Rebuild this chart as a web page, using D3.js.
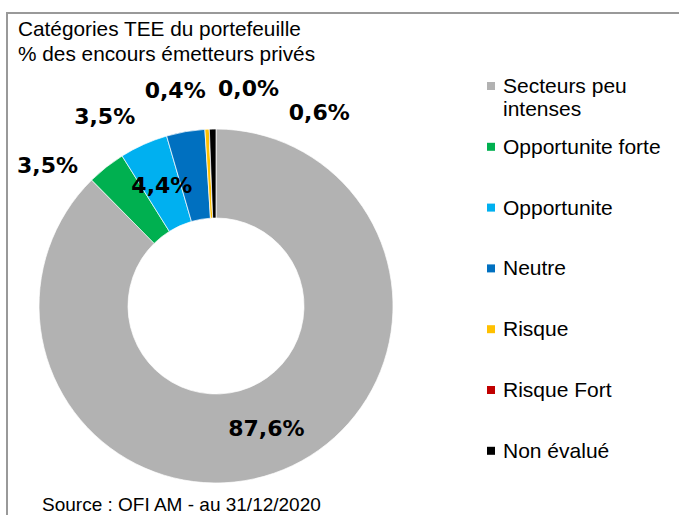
<!DOCTYPE html>
<html>
<head>
<meta charset="utf-8">
<script src="https://cdn.jsdelivr.net/npm/d3@7"></script>
<style>
  body { margin: 0; background: #fff; }
  svg { display: block; }
  text { font-family: "Liberation Sans", Arial, sans-serif; }
  text.lbl { font-family: "DejaVu Sans", sans-serif; font-weight: bold; }
</style>
</head>
<body>
<svg width="679" height="515"></svg>
<script>
// Categories TEE - donut
var categories = ["Secteurs peu intenses", "Opportunite forte", "Opportunite", "Neutre", "Risque", "Risque Fort", "Non évalué"];
var values = [87.6, 3.5, 4.4, 3.5, 0.4, 0.0, 0.6];
var colors = ["#b2b2b2", "#00b050", "#00b0f0", "#0070c0", "#ffc000", "#c00000", "#000000"];
var titleLines = ["Catégories TEE du portefeuille", "% des encours émetteurs  privés"];
var sourceText = "Source : OFI AM - au 31/12/2020";

var svg = d3.select("svg");

var data = categories.map(function(c, i) { return {name: c, value: values[i], color: colors[i]}; });

// cadre
svg.append("line").attr("x1", 7).attr("x2", 679).attr("y1", 13).attr("y2", 13)
  .attr("stroke", "#999").attr("stroke-width", 2);
svg.append("line").attr("x1", 7).attr("x2", 7).attr("y1", 12).attr("y2", 515)
  .attr("stroke", "#999").attr("stroke-width", 2);

// titre
svg.append("g").selectAll("text")
  .data(titleLines)
  .enter().append("text")
  .attr("x", 18)
  .attr("y", function(d, i) { return 36 + i * 25; })
  .attr("font-size", 20.8)
  .attr("fill", "#000")
  .text(function(d) { return d; });

// donut
var cx = 216, cy = 306, R = 177, r0 = 88;
var pie = d3.pie().sort(null).value(function(d) { return d.value; });
var arc = d3.arc().innerRadius(r0).outerRadius(R);
var arcs = pie(data);

var g = svg.append("g").attr("transform", "translate(" + cx + "," + cy + ")");

g.selectAll("path")
  .data(arcs)
  .enter().append("path")
  .attr("d", arc)
  .attr("fill", function(d) { return d.data.color; })
  .attr("stroke", "#fff")
  .attr("stroke-width", 0.7);

// etiquettes : dans l'anneau pour les grandes parts, sinon a l'exterieur
var outside = {"Opportunite forte": -50, "Neutre": -30.4, "Risque": -10.7, "Risque Fort": 8.5, "Non évalué": 28};
var fmt = function(v) { return v.toFixed(1).replace(".", ",") + "%"; };

g.selectAll("text.lbl")
  .data(arcs)
  .enter().append("text")
  .attr("class", "lbl")
  .attr("transform", function(d) {
    var p;
    if (outside[d.data.name] !== undefined) {
      p = d3.pointRadial(outside[d.data.name] * Math.PI / 180, 220);
    } else {
      p = arc.centroid(d);
    }
    return "translate(" + p[0] + "," + p[1] + ")";
  })
  .attr("text-anchor", "middle")
  .attr("dy", "0.36em")
  .attr("font-size", 22)
  .attr("fill", "#000")
  .text(function(d) { return fmt(d.data.value); });

// legende
var legend = svg.append("g").attr("transform", "translate(487,0)");
var item = legend.selectAll("g")
  .data(data)
  .enter().append("g")
  .attr("transform", function(d, i) { return "translate(0," + (93 + i * 60.8) + ")"; });

item.append("rect")
  .attr("x", 0)
  .attr("y", -11)
  .attr("width", 8)
  .attr("height", 8)
  .attr("fill", function(d) { return d.color; });

item.append("text")
  .attr("x", 16)
  .attr("font-size", 21)
  .attr("fill", "#000")
  .each(function(d) {
    var t = d3.select(this);
    var lines = d.name == "Secteurs peu intenses" ? ["Secteurs peu", "intenses"] : [d.name];
    lines.forEach(function(l, k) {
      t.append("tspan").attr("x", 16).attr("dy", k ? 23 : 0).text(l);
    });
  });

// source
svg.append("text")
  .attr("x", 42)
  .attr("y", 511)
  .attr("font-size", 19)
  .attr("fill", "#000")
  .text(sourceText);
</script>
</body>
</html>
